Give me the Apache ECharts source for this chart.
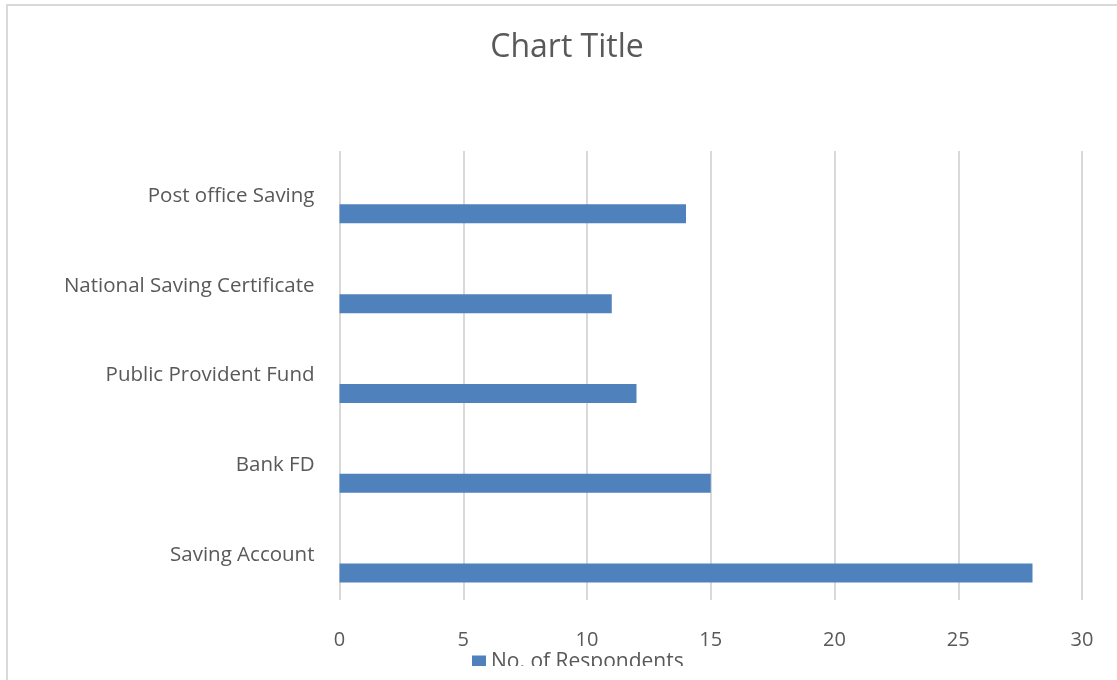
<!DOCTYPE html>
<html>
<head>
<meta charset="utf-8">
<script src="https://cdn.jsdelivr.net/npm/echarts@6/dist/echarts.min.js"></script>
<style>
  html, body { margin: 0; padding: 0; background: #fff; }
  #chart { width: 1117px; height: 680px; }
</style>
</head>
<body>
<div id="chart"></div>
<script>
// Savings instruments, listed bottom to top on the category axis
const categories = ['Saving Account', 'Bank FD', 'Public Provident Fund', 'National Saving Certificate', 'Post office Saving'];
const respondents = [28, 15, 12, 11, 14];
const xTicks = [0, 5, 10, 15, 20, 25, 30];

const textColor = '#595959';
const fontFamily = '"Open Sans", Lato, sans-serif';

const chart = echarts.init(document.getElementById('chart'));
chart.setOption({
  animation: false,
  backgroundColor: '#ffffff',
  title: {
    text: 'Chart Title',
    left: 562,
    textAlign: 'center',
    top: 27,
    textStyle: { color: textColor, fontSize: 32, fontWeight: 'normal', fontFamily: fontFamily }
  },
  graphic: [
    {
      // outer chart frame
      type: 'rect',
      shape: { x: 7, y: 5, width: 1200, height: 800 },
      style: { fill: 'none', stroke: '#d9d9d9', lineWidth: 2 },
      silent: true,
      z: -1
    },
    {
      // page cut-off along the bottom edge of the chart area
      type: 'rect',
      shape: { x: 9, y: 666, width: 1200, height: 20 },
      style: { fill: '#ffffff' },
      silent: true,
      z: 100
    }
  ],
  legend: {
    data: ['No. of Respondents'],
    left: 467,
    top: 647,
    itemWidth: 14,
    itemHeight: 14,
    itemGap: 6,
    icon: 'rect',
    textStyle: { color: textColor, fontSize: 21, fontFamily: fontFamily }
  },
  grid: { left: 339.5, right: 35, top: 151, bottom: 80, containLabel: false },
  xAxis: {
    type: 'value',
    min: xTicks[0],
    max: xTicks[xTicks.length - 1],
    interval: 5,
    axisLine: { show: false },
    axisTick: { show: false },
    splitLine: { show: true, lineStyle: { color: '#d9d9d9', width: 2 } },
    axisLabel: { color: textColor, fontSize: 20, fontFamily: fontFamily, margin: 30 }
  },
  yAxis: {
    type: 'category',
    data: categories,
    axisLine: { show: false },
    axisTick: { show: false },
    axisLabel: { color: textColor, fontSize: 20.5, fontFamily: fontFamily, margin: 25 }
  },
  series: [
    {
      // empty companion series keeps the bar in the lower half of each band
      name: '',
      type: 'bar',
      data: [],
      barWidth: 19,
      barGap: '89%'
    },
    {
      name: 'No. of Respondents',
      type: 'bar',
      data: respondents,
      barWidth: 19,
      barGap: '89%',
      itemStyle: { color: '#4f81bd' }
    }
  ]
});
</script>
</body>
</html>
